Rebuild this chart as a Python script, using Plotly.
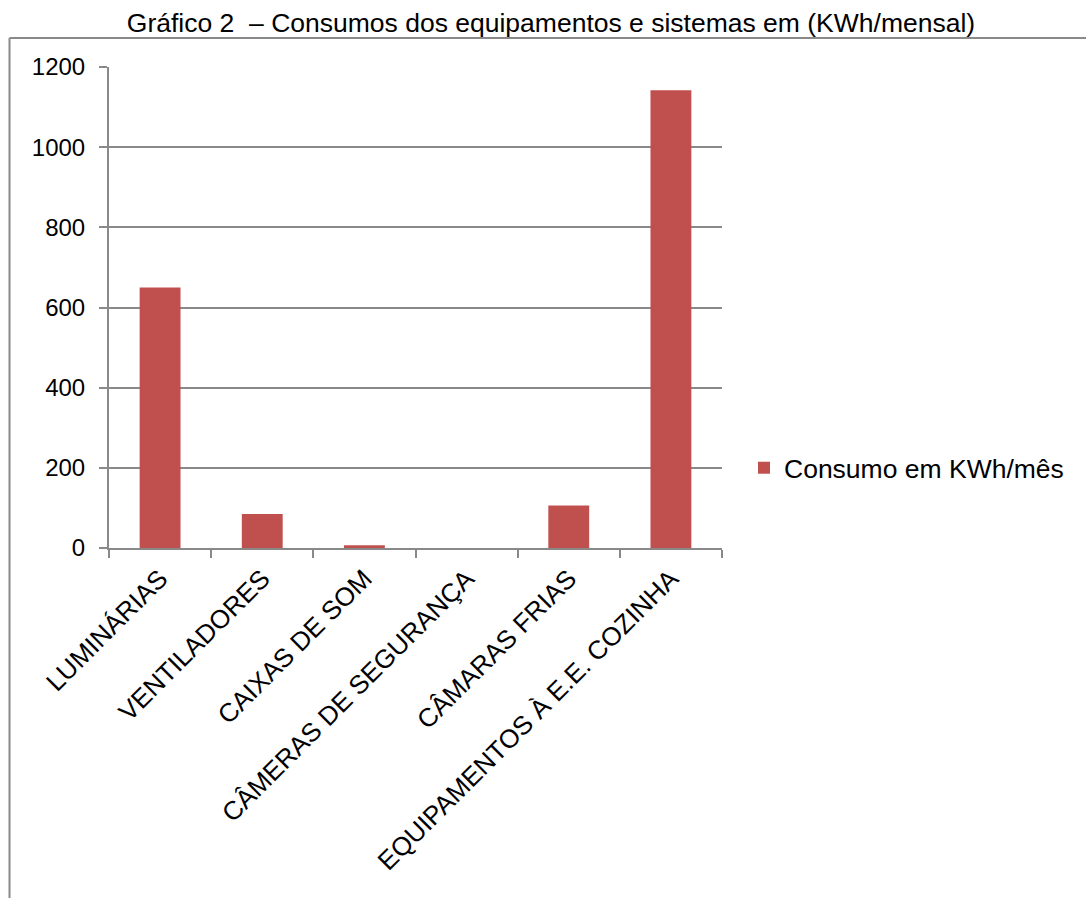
import plotly.graph_objects as go

# Monthly consumption per group of equipment (kWh/month)
categorias = [
    "LUMINÁRIAS",
    "VENTILADORES",
    "CAIXAS DE SOM",
    "CÂMERAS DE SEGURANÇA",
    "CÂMARAS FRIAS",
    "EQUIPAMENTOS À E.E. COZINHA",
]
consumo_kwh = [650, 85, 7, 0, 106, 1142]
serie_nome = "Consumo em KWh/mês"
titulo = "Gráfico 2  – Consumos dos equipamentos e sistemas em (KWh/mensal)"

W, H = 1086, 898
L, R, T, B = 109, 364, 67, 350
pw, ph = W - L - R, H - T - B

cinza = "#898989"
barra = "#C0504D"
fonte = "Liberation Sans, Arial, sans-serif"

fig = go.Figure(
    go.Bar(
        x=categorias,
        y=consumo_kwh,
        name=serie_nome,
        marker=dict(color=barra, line=dict(width=0)),
        showlegend=True,
    )
)

# outer frame: left and top edges only
def px_x(v):
    return (v - L) / pw

def px_y(v):
    return (H - B - v) / ph

frame = dict(type="line", xref="paper", yref="paper", line=dict(color=cinza, width=2))
shapes = [
    dict(frame, x0=px_x(9.5), x1=px_x(W + 5), y0=px_y(38), y1=px_y(38)),
    dict(frame, x0=px_x(9.5), x1=px_x(9.5), y0=px_y(38), y1=px_y(H + 5)),
]

fig.update_layout(
    width=W,
    height=H,
    margin=dict(l=L, r=R, t=T, b=B),
    paper_bgcolor="white",
    plot_bgcolor="white",
    font=dict(family=fonte, size=24, color="black"),
    title=dict(
        text=titulo,
        x=551 / W,
        xanchor="center",
        y=1 - 23 / H,
        yanchor="middle",
        font=dict(size=26.5, color="black"),
    ),
    bargap=0.6,
    showlegend=True,
    legend=dict(
        x=px_x(744),
        y=px_y(468),
        xanchor="left",
        yanchor="middle",
        font=dict(size=26.5, color="black"),
        bgcolor="rgba(0,0,0,0)",
        itemsizing="constant",
    ),
    shapes=shapes,
)

fig.update_yaxes(
    range=[0, 1200],
    dtick=200,
    showgrid=True,
    gridcolor=cinza,
    gridwidth=2,
    zeroline=False,
    showline=True,
    linecolor=cinza,
    linewidth=2,
    ticks="outside",
    ticklen=8,
    tickwidth=2,
    tickcolor=cinza,
    ticklabelstandoff=9,
    tickfont=dict(size=24, color="black"),
    fixedrange=True,
)

fig.update_xaxes(
    type="category",
    showgrid=False,
    showline=True,
    linecolor=cinza,
    linewidth=2,
    ticks="outside",
    tickson="boundaries",
    ticklen=8,
    tickwidth=2,
    tickcolor=cinza,
    tickangle=-45,
    ticklabelstandoff=3,
    tickfont=dict(size=26, color="black"),
    fixedrange=True,
)

fig.write_html("out.html")
